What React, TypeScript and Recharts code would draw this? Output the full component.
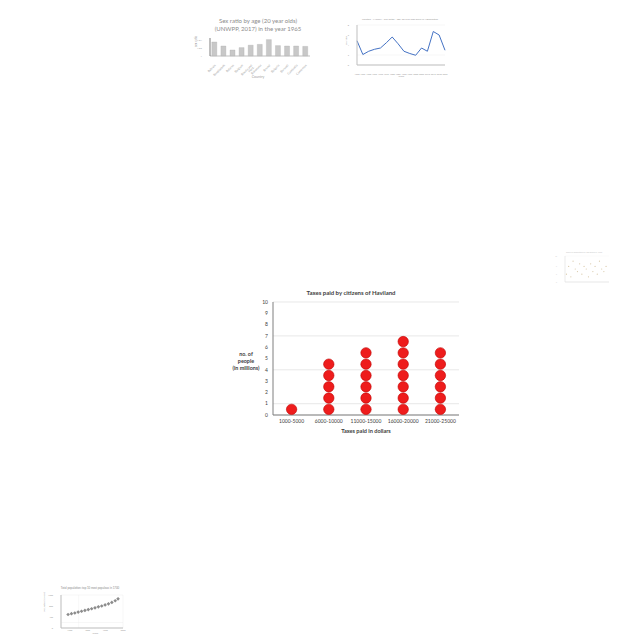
import React from 'react';
import {
  ScatterChart, Scatter, XAxis, YAxis, CartesianGrid, BarChart, Bar, LineChart, Line,
} from 'recharts';

// ---------- main chart data ----------
const taxCategories = ['1000-5000', '6000-10000', '11000-15000', '16000-20000', '21000-25000'];
const peopleMillions = [1, 5, 6, 7, 6];
const yTicks = [0, 1, 2, 3, 4, 5, 6, 7, 8, 9, 10];

// ---------- small chart data ----------
const sexCountries = ['Bahrain', 'Bangladesh', 'Belarus', 'Belgium', 'Bosnia and Herz.', 'Botswana', 'Brunei', 'Bulgaria', 'Burundi', 'Cambodia', 'Cameroon'];
const sexRatios = [1.035, 1.025, 1.015, 1.021, 1.027, 1.029, 1.041, 1.026, 1.025, 1.025, 1.024];

const migYears = ['1950', '1955', '1960', '1965', '1970', '1975', '1980', '1985', '1990', '1995', '2000', '2005', '2010', '2015', '2020', '2025'];
const migValues = [4.85, 2.1, 2.75, 3.15, 3.4, 4.45, 5.6, 4.25, 2.75, 2.3, 1.95, 3.4, 2.75, 6.7, 6.0, 2.95];

const popYears = [1740, 1759, 1778, 1797, 1816, 1835, 1854, 1873, 1892, 1911, 1930, 1949, 1968, 1987, 2006, 2022];
const popValues = [490, 520, 545, 580, 610, 640, 670, 700, 735, 770, 800, 840, 880, 930, 990, 1060];

const faintX = [2, 5, 8, 11, 14, 17, 20, 23, 26, 29, 32, 35, 38, 41, 44, 47, 50, 53, 56];
const faintY = [3, 6, 2, 8, 5, 4, 7, 3, 6, 5, 2, 7, 4, 6, 3, 8, 5, 4, 6];

const mainDots = taxCategories.flatMap((_, i) =>
  Array.from({ length: peopleMillions[i] }, (_, k) => ({ x: i, y: k + 0.5 }))
);
const sexData = sexCountries.map((c, i) => ({ c, v: sexRatios[i] }));
const migData = migYears.map((y, i) => ({ y, v: migValues[i] }));
const popData = popYears.map((x, i) => ({ x, v: popValues[i] }));
const faintData = faintX.map((x, i) => ({ x, v: faintY[i] }));

const FONT = 'Lato, "Open Sans", sans-serif';

const Dot = (props: any) => (
  <circle cx={props.cx} cy={props.cy} r={5.2} fill="#ee1c1c" stroke="#c00000" strokeWidth={0.6} />
);
const SmallDiamond = (props: any) => (
  <rect x={props.cx - 1.3} y={props.cy - 1.3} width={2.6} height={2.6} fill="#8c8c8c" transform={`rotate(45 ${props.cx} ${props.cy})`} />
);
const FaintDot = (props: any) => (
  <circle cx={props.cx} cy={props.cy} r={0.6} fill="#d8c8a8" />
);

const abs = (left: number, top: number): React.CSSProperties => ({ position: 'absolute', left, top });

export default function App() {
  return (
    <div style={{ position: 'absolute', left: 0, top: 0, width: 640, height: 640, background: '#fff', fontFamily: FONT, overflow: 'hidden' }}>
      {/* ---------- top-left bar chart ---------- */}
      <div style={{ ...abs(200, 17), width: 116, textAlign: 'center', fontSize: 6, lineHeight: '8px', color: '#8c8c8c', fontFamily: FONT }}>
        Sex ratio by age (20 year olds)<br />(UNWPP, 2017) in the year 1965
      </div>
      <div style={abs(180, 36)}>
        <BarChart width={132} height={40} data={sexData} margin={{ top: 2, right: 2, left: 0, bottom: 0 }} barCategoryGap="20%">
          <XAxis dataKey="c" interval={0} height={20} tickLine={false} axisLine={{ stroke: '#bfbfbf' }}
            tick={{ fontSize: 3, fill: '#9a9a9a', angle: -45, textAnchor: 'end' } as any} />
          <YAxis width={30} domain={[1.0, 1.045]} ticks={[1.0, 1.01, 1.02, 1.03, 1.04]} tickLine={false}
            axisLine={{ stroke: '#7f7f7f' }} tick={{ fontSize: 2.5, fill: '#9a9a9a' }}
            label={{ value: 'sex ratio', angle: -90, position: 'insideLeft', offset: 16, style: { fontSize: 3, fill: '#9a9a9a' } }} />
          <Bar dataKey="v" fill="#c8c8c8" stroke="#a6a6a6" strokeWidth={0.3} isAnimationActive={false} />
        </BarChart>
      </div>
      <div style={{ ...abs(238, 75), width: 40, textAlign: 'center', fontSize: 3.5, color: '#a0a0a0' }}>Country</div>

      {/* ---------- top-right line chart ---------- */}
      <div style={{ ...abs(345, 17), width: 110, textAlign: 'center', fontSize: 2.6, color: '#9a9a9a', whiteSpace: 'nowrap' }}>
        Lesotho - Malawi - Sex Ratio - age 20 year olds born in Afghanistan
      </div>
      <div style={abs(340, 22)}>
        <LineChart width={110} height={55} data={migData} margin={{ top: 3, right: 5, left: 0, bottom: 0 }}>
          <CartesianGrid vertical={false} stroke="#ececec" strokeWidth={0.4} />
          <XAxis dataKey="y" interval={0} height={12} tickLine={false} axisLine={{ stroke: '#bfbfbf' }}
            tick={{ fontSize: 2.2, fill: '#9a9a9a' }}
            label={{ value: 'Years', position: 'insideBottom', offset: 0, style: { fontSize: 2.6, fill: '#9a9a9a' } }} />
          <YAxis width={17} domain={[0, 8]} ticks={[0, 1, 2, 3, 4, 5, 6, 7, 8]} tickLine={false} axisLine={{ stroke: '#bfbfbf' }}
            tick={{ fontSize: 2.2, fill: '#9a9a9a' }}
            label={{ value: 'Sex ratio', angle: -90, position: 'insideLeft', offset: 6, style: { fontSize: 2.4, fill: '#9a9a9a' } }} />
          <Line dataKey="v" stroke="#4472c4" strokeWidth={1} dot={false} isAnimationActive={false} />
        </LineChart>
      </div>

      {/* ---------- right edge faint chart ---------- */}
      <div style={{ ...abs(556, 251), width: 56, textAlign: 'center', fontSize: 2, color: '#c8c8c8', whiteSpace: 'nowrap' }}>
        Share of population by age group in 1960
      </div>
      <div style={abs(555, 255)}>
        <ScatterChart width={56} height={32} margin={{ top: 1, right: 2, left: 0, bottom: 0 }}>
          <CartesianGrid vertical={false} stroke="#f0f0f0" strokeWidth={0.3} />
          <XAxis type="number" dataKey="x" domain={[0, 60]} height={5} tickLine={false} axisLine={{ stroke: '#d6d6d6', strokeWidth: 0.5 }} tick={false} />
          <YAxis type="number" dataKey="v" domain={[0, 10]} width={10} tickLine={false} axisLine={{ stroke: '#d6d6d6', strokeWidth: 0.5 }} tick={{ fontSize: 1.6, fill: '#cfcfcf' }} />
          <Scatter data={faintData} shape={FaintDot} isAnimationActive={false} />
        </ScatterChart>
      </div>

      {/* ---------- bottom-left scatter ---------- */}
      <div style={{ ...abs(50, 586), width: 80, textAlign: 'center', fontSize: 2.8, color: '#8c8c8c', whiteSpace: 'nowrap' }}>
        Total population: top 10 most populous in 1700
      </div>
      <div style={abs(40, 590)}>
        <ScatterChart width={92} height={45} margin={{ top: 5, right: 9, left: 0, bottom: 0 }}>
          <CartesianGrid stroke="#ececec" strokeWidth={0.4} />
          <XAxis type="number" dataKey="x" domain={[1700, 2050]} ticks={[1700, 1750, 1800, 1850, 1900, 1950, 2000, 2050]} height={7}
            tickLine={false} tickSize={1} tickMargin={0} axisLine={{ stroke: '#bfbfbf' }} tick={{ fontSize: 2.2, fill: '#9a9a9a' }} />
          <YAxis type="number" dataKey="v" domain={[0, 1200]} ticks={[0, 200, 400, 600, 800, 1000, 1200]} width={21}
            tickLine={false} axisLine={{ stroke: '#bfbfbf' }} tick={{ fontSize: 2.2, fill: '#9a9a9a' }}
            label={{ value: 'Population (millions)', angle: -90, position: 'insideLeft', offset: 4, style: { fontSize: 2.2, fill: '#9a9a9a' } }} />
          <Scatter data={popData} shape={SmallDiamond} isAnimationActive={false} />
        </ScatterChart>
      </div>
      <div style={{ ...abs(80, 632), width: 30, textAlign: 'center', fontSize: 2.6, lineHeight: '3px', color: '#9a9a9a' }}>Years</div>

      {/* ---------- main dot plot ---------- */}
      <div style={{ ...abs(286, 289), width: 130, textAlign: 'center', fontSize: 6, fontWeight: 700, color: '#404040', whiteSpace: 'nowrap' }}>
        Taxes paid by citizens of Haviland
      </div>
      <div style={{ ...abs(222, 351), width: 48, textAlign: 'center', fontSize: 5.4, lineHeight: '7px', fontWeight: 700, color: '#404040' }}>
        no. of<br />people<br />(in millions)
      </div>
      <div style={abs(220, 285)}>
        <ScatterChart width={245} height={160} margin={{ top: 17, right: 6, left: 0, bottom: 0 }}>
          <CartesianGrid vertical={false} stroke="#d9d9d9" strokeWidth={0.6} />
          <XAxis type="number" dataKey="x" domain={[-0.5, 4.5]} ticks={[0, 1, 2, 3, 4]} height={30}
            tickFormatter={(i: number) => taxCategories[i]} tickLine={false} tickSize={3} tickMargin={1}
            axisLine={{ stroke: '#7f7f7f' }} tick={{ fontSize: 5, fill: '#404040', fontFamily: FONT }} />
          <YAxis type="number" dataKey="y" domain={[0, 10]} ticks={yTicks} width={53} tickLine={false}
            tickSize={3} tickMargin={2} axisLine={{ stroke: '#7f7f7f' }} tick={{ fontSize: 5, fill: '#404040', fontFamily: FONT }} />
          <Scatter data={mainDots} shape={Dot} isAnimationActive={false} />
        </ScatterChart>
      </div>
      <div style={{ ...abs(326, 427), width: 80, textAlign: 'center', fontSize: 5.6, fontWeight: 700, color: '#404040', whiteSpace: 'nowrap' }}>
        Taxes paid in dollars
      </div>
    </div>
  );
}
